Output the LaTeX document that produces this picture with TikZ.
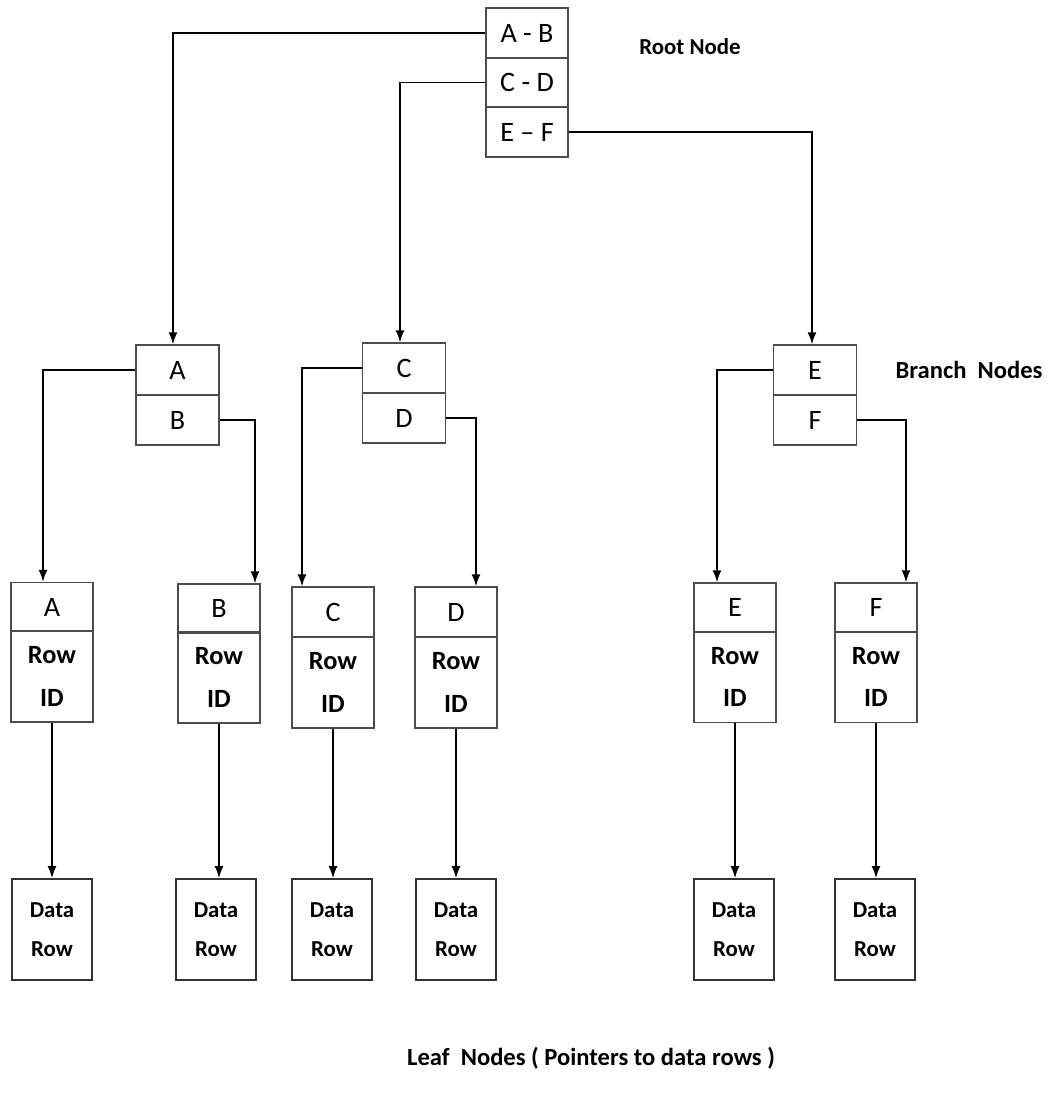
\documentclass[tikz,border=0pt]{standalone}
\usepackage{fontspec}
\setmainfont{Carlito}
\usetikzlibrary{arrows.meta}
\tikzset{
  cell/.style={draw=black!70, line width=0.8pt, minimum width=16.4mm, minimum height=10mm, inner sep=0pt, font=\fontsize{16}{18}\selectfont},
  rowcell/.style={cell, minimum height=18.2mm, align=center, font=\fontsize{15}{24}\selectfont\bfseries},
  datacell/.style={draw=black!80, line width=1pt, minimum width=16mm, minimum height=20.2mm, inner sep=0pt, align=center, font=\fontsize{13}{22}\selectfont\bfseries},
  link/.style={line width=0.9pt, -{Latex[length=2.4mm,width=1.8mm]}},
  tag/.style={font=\fontsize{14}{16}\selectfont\bfseries}
}

\begin{document}
\begin{tikzpicture}[x=0.2mm, y=-0.2mm]
      \useasboundingbox (0,0) rectangle (1052,1093);

      % Root node
      \node[cell] (rab) at (527,33) {A - B};
      \node[cell] (rcd) at (527,82.5) {C - D};
      \node[cell] (ref) at (527,132) {E -- F};
      \node[tag, font=\fontsize{13}{15}\selectfont\bfseries] (rootlbl) at (690,47) {Root Node};

      % Branch nodes
      \node[cell, minimum width=16.6mm] (ba) at (177.5,370) {A};
      \node[cell, minimum width=16.6mm] (bb) at (177.5,420) {B};
      \node[cell, minimum width=16.6mm] (bc) at (404,368) {C};
      \node[cell, minimum width=16.6mm] (bd) at (404,418) {D};
      \node[cell, minimum width=16.6mm] (be) at (815,370) {E};
      \node[cell, minimum width=16.6mm] (bf) at (815,420) {F};
      \node[tag] (branchlbl) at (969,370) {Branch\ \ Nodes};

      % Leaf nodes
      \node[cell, minimum height=9.8mm] (la) at (52,607) {A};
      \node[rowcell] (lar) at (52,676.5) {Row\\ID};
      \node[cell, minimum height=9.8mm] (lb) at (219,608.5) {B};
      \node[rowcell] (lbr) at (219,677.5) {Row\\ID};
      \node[cell, minimum height=10mm] (lc) at (333,612) {C};
      \node[rowcell] (lcr) at (333,682.5) {Row\\ID};
      \node[cell, minimum height=10mm] (ld) at (456,612) {D};
      \node[rowcell] (ldr) at (456,682.5) {Row\\ID};
      \node[cell, minimum height=9.8mm] (le) at (735,607.5) {E};
      \node[rowcell] (ler) at (735,677) {Row\\ID};
      \node[cell, minimum height=9.8mm] (lf) at (876,607.5) {F};
      \node[rowcell] (lfr) at (876,677) {Row\\ID};

      % Data rows
      \node[datacell] (da) at (52,929.5) {Data\\Row};
      \node[datacell] (db) at (216,929.5) {Data\\Row};
      \node[datacell] (dc) at (332,929.5) {Data\\Row};
      \node[datacell] (dd) at (456,929.5) {Data\\Row};
      \node[datacell] (de) at (734,929.5) {Data\\Row};
      \node[datacell] (df) at (875,929.5) {Data\\Row};
      \node[tag] (leaflbl) at (591,1058) {Leaf\ \ Nodes ( Pointers to data rows )};

      % Root to branches
      \draw[link] (rab.west) -| ([xshift=-0.9mm]ba.north);
      \draw[link] (rcd.west) -| ([xshift=-0.8mm]bc.north);
      \draw[link] (ref.east) -| ([xshift=-0.6mm]be.north);

      % Branches to leaves
      \draw[link] (ba.west) -| ([xshift=-1.8mm]la.north);
      \draw[link] (bb.east) -| ([xshift=7.2mm]lb.north);
      \draw[link] (bc.west) -| ([xshift=-6.2mm]lc.north);
      \draw[link] (bd.east) -| ([xshift=4mm]ld.north);
      \draw[link] (be.west) -| ([xshift=-3.6mm]le.north);
      \draw[link] (bf.east) -| ([xshift=6mm]lf.north);

      % Leaves to data rows
      \draw[link] (lar.south) -- (lar.south |- da.north);
      \draw[link] (lbr.south) -- (lbr.south |- db.north);
      \draw[link] (lcr.south) -- (lcr.south |- dc.north);
      \draw[link] (ldr.south) -- (ldr.south |- dd.north);
      \draw[link] (ler.south) -- (ler.south |- de.north);
      \draw[link] (lfr.south) -- (lfr.south |- df.north);
\end{tikzpicture}
\end{document}
